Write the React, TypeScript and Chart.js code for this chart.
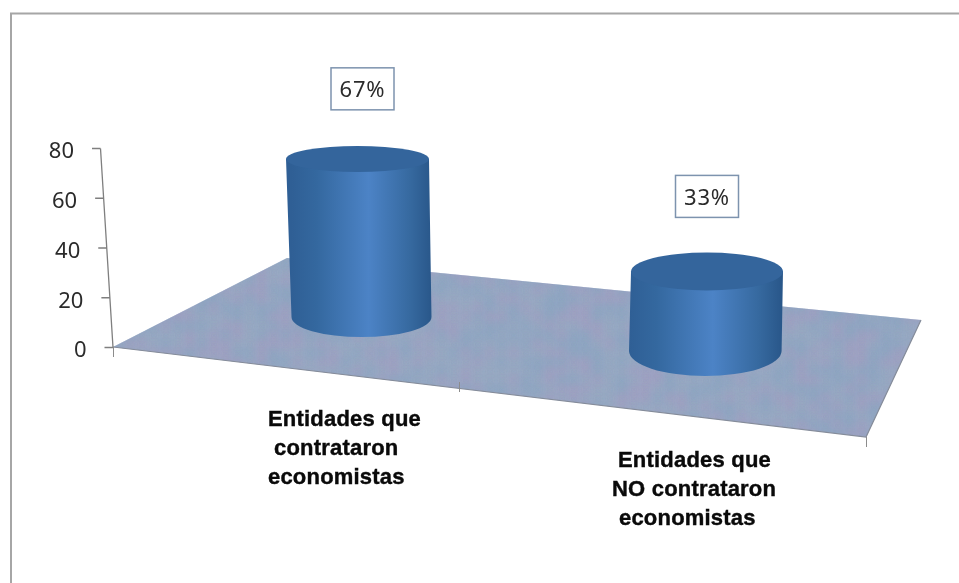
import React, { useEffect, useRef } from "react";
import { Chart, registerables } from "chart.js";

Chart.register(...registerables);

const categories = [
  ["Entidades que", " contrataron", "economistas"],
  ["Entidades que", "NO contrataron", "economistas"],
];
const seriesValues = [67, 33];
const percentLabels = ["67%", "33%"];
const yTicks = [0, 20, 40, 60, 80];

const FLOOR = [[113, 347], [287, 258], [921, 320], [866, 437]];
const FLOOR_TICKS = [[113, 347], [459, 382], [866, 437]];

// per-bar projection of the 3D view
const GEO = [
  { topDx: -0.5, baseDx: 3.5, baseDy: -30.5, vScale: 0.948, rTop: 71.5, rBase: 70, ryTop: 13, ryBase: 20, boxDx: 4.5, boxDy: -92, labelDx: -90, labelY: 420 },
  { topDx: 0, baseDx: -1.7, baseDy: 3.5, vScale: 0.968, rTop: 76, rBase: 76.3, ryTop: 19, ryBase: 25, boxDx: 0, boxDy: -69, labelDx: -89, labelY: 460.5 },
];
const LINE_OFFSETS = [[0, 6, 0], [0, -6, 1]];

// fixed mottled texture of the floor (not chart data)
const noise = (x: number, y: number) => {
  const v = Math.sin(x * 12.9898 + y * 78.233) * 43758.5453;
  return v - Math.floor(v);
};

const floorPlugin = {
  id: "floor",
  beforeDatasetsDraw(chart: any) {
    const ctx = chart.ctx;
    const path = () => {
      ctx.beginPath();
      FLOOR.forEach(([x, y], i) => (i ? ctx.lineTo(x, y) : ctx.moveTo(x, y)));
      ctx.closePath();
    };
    ctx.save();
    path();
    ctx.fillStyle = "#98a9c4";
    ctx.fill();
    ctx.save();
    ctx.clip();
    ctx.filter = "blur(5px)";
    for (let x = 100; x < 930; x += 12) {
      for (let y = 250; y < 445; y += 9) {
        const n = noise(x, y);
        ctx.fillStyle =
          n < 0.3 ? "rgba(172,156,195,0.5)" : n < 0.66 ? "rgba(135,165,195,0.5)" : "rgba(155,172,198,0.45)";
        ctx.fillRect(x, y, 12, 9);
      }
    }
    ctx.filter = "none";
    ctx.restore();
    ctx.strokeStyle = "#858c9a";
    ctx.lineWidth = 1.2;
    ctx.beginPath();
    ctx.moveTo(FLOOR[0][0], FLOOR[0][1]);
    ctx.lineTo(FLOOR[3][0], FLOOR[3][1]);
    ctx.lineTo(FLOOR[2][0], FLOOR[2][1]);
    ctx.stroke();
    ctx.strokeStyle = "#8c8c8c";
    ctx.lineWidth = 1;
    ctx.beginPath();
    for (const [x, y] of FLOOR_TICKS) {
      ctx.moveTo(x + 0.5, y);
      ctx.lineTo(x + 0.5, y + 10);
    }
    ctx.stroke();
    ctx.restore();
  },
  afterDatasetsDraw(chart: any) {
    const ctx = chart.ctx;
    const yScale = chart.scales.y;
    const base = yScale.getPixelForValue(0);
    const top = yScale.getPixelForValue(80);
    const skew = (py: number) => 12.5 * (py - top) / (base - top);

    // slanted value axis
    ctx.save();
    ctx.strokeStyle = "#7f7f7f";
    ctx.lineWidth = 1.3;
    ctx.beginPath();
    ctx.moveTo(100.5 + skew(top), top);
    ctx.lineTo(100.5 + skew(base), base);
    for (const t of yTicks) {
      const py = yScale.getPixelForValue(t);
      ctx.moveTo(100.5 + skew(py), py);
      ctx.lineTo(92 + skew(py), py);
    }
    ctx.stroke();
    ctx.fillStyle = "#2b2b2b";
    ctx.font = "22px 'Noto Sans'";
    ctx.textAlign = "right";
    ctx.textBaseline = "middle";
    for (const t of yTicks) {
      const py = yScale.getPixelForValue(t);
      ctx.fillText(String(t), 74 + skew(py), py + 3.5);
    }
    ctx.restore();

    // cylinders
    const meta = chart.getDatasetMeta(0);
    meta.data.forEach((el: any, i: number) => {
      const g = GEO[i];
      const wScale = el.width / 146.6;
      const cxB = el.x + g.baseDx;
      const cyB = el.base + g.baseDy;
      const cxT = el.x + g.topDx;
      const cyT = cyB - (el.base - el.y) * g.vScale;
      const rT = g.rTop * wScale;
      const rB = g.rBase * wScale;
      ctx.save();
      ctx.filter = "blur(0.6px)";
      const grad = ctx.createLinearGradient(cxB - rB, 0, cxB + rB, 0);
      grad.addColorStop(0, "#2f5f95");
      grad.addColorStop(0.18, "#34689f");
      grad.addColorStop(0.55, "#4c83c6");
      grad.addColorStop(0.85, "#36699f");
      grad.addColorStop(1, "#29578a");
      ctx.fillStyle = grad;
      ctx.beginPath();
      ctx.moveTo(cxT - rT, cyT);
      ctx.lineTo(cxB - rB, cyB);
      ctx.ellipse(cxB, cyB, rB, g.ryBase, 0, Math.PI, 0, true);
      ctx.lineTo(cxT + rT, cyT);
      ctx.closePath();
      ctx.fill();
      ctx.fillStyle = "#34659c";
      ctx.beginPath();
      ctx.ellipse(cxT, cyT, rT, g.ryTop, 0, 0, Math.PI * 2);
      ctx.fill();
      ctx.filter = "none";

      // value label
      const bx = el.x + g.boxDx;
      const by = el.y + g.boxDy;
      ctx.fillStyle = "#ffffff";
      ctx.strokeStyle = "#7d93ae";
      ctx.lineWidth = 1.5;
      ctx.fillRect(bx - 31.5, by - 21, 63, 42);
      ctx.strokeRect(bx - 31.5, by - 21, 63, 42);
      ctx.fillStyle = "#2b2b2b";
      ctx.font = "22px 'Noto Sans'";
      ctx.letterSpacing = "0.8px";
      ctx.textAlign = "center";
      ctx.textBaseline = "middle";
      ctx.fillText(percentLabels[i], bx, by + 2);

      // category label
      ctx.fillStyle = "#0a0a0a";
      ctx.strokeStyle = "#0a0a0a";
      ctx.lineWidth = 0.4;
      ctx.font = "bold 22px 'Liberation Sans'";
      ctx.letterSpacing = "0.2px";
      ctx.textAlign = "left";
      ctx.textBaseline = "middle";
      categories[i].forEach((line, j) => {
        const tx = el.x + g.labelDx + LINE_OFFSETS[i][j];
        const ty = g.labelY + j * 29;
        ctx.fillText(line.trim(), tx, ty);
        ctx.strokeText(line.trim(), tx, ty);
      });
      ctx.restore();
    });
  },
};

const framePlugin = {
  id: "frame",
  beforeDraw(chart: any) {
    const ctx = chart.ctx;
    ctx.save();
    ctx.fillStyle = "#ffffff";
    ctx.fillRect(0, 0, chart.width, chart.height);
    ctx.strokeStyle = "#a6a6a6";
    ctx.lineWidth = 2;
    ctx.beginPath();
    ctx.moveTo(11, chart.height);
    ctx.lineTo(11, 13.5);
    ctx.lineTo(chart.width, 13.5);
    ctx.stroke();
    ctx.restore();
  },
};

export default function App() {
  const ref = useRef<HTMLCanvasElement>(null);
  useEffect(() => {
    document.body.style.margin = "0";
    const chart = new Chart(ref.current!, {
      type: "bar",
      data: {
        labels: categories.map((c) => c.map((s) => s.trim())),
        datasets: [{ data: seriesValues, backgroundColor: "transparent", barPercentage: 0.42, categoryPercentage: 1 }],
      },
      options: {
        animation: false,
        responsive: false,
        layout: { padding: { left: 183.5, right: 77.5, top: 148.5, bottom: 235.5 } },
        plugins: { legend: { display: false }, tooltip: { enabled: false }, title: { display: false } },
        scales: {
          x: { display: false },
          y: { display: false, min: 0, max: 80, ticks: { stepSize: 20 } },
        },
      },
      plugins: [framePlugin, floorPlugin],
    } as any);
    return () => chart.destroy();
  }, []);
  return <canvas ref={ref} width={959} height={583} style={{ display: "block" }} />;
}
